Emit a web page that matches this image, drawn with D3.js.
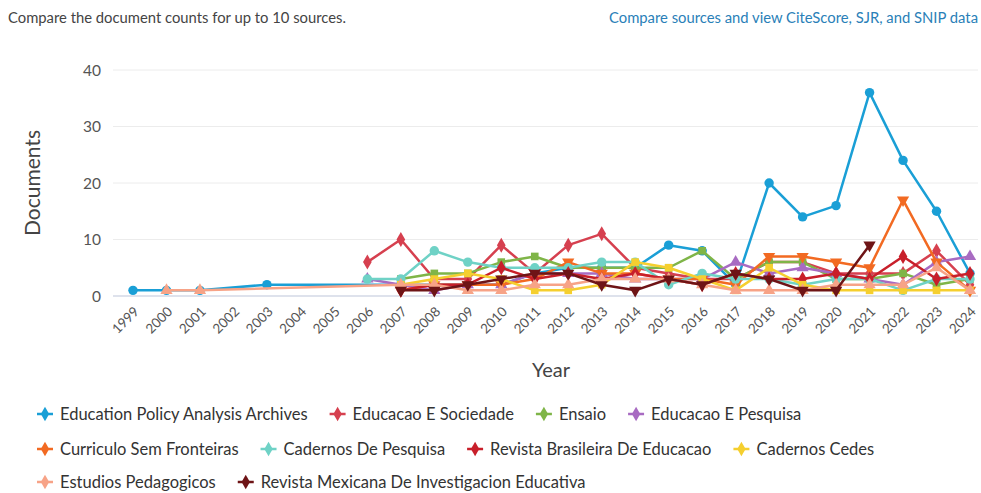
<!DOCTYPE html>
<html>
<head>
<meta charset="utf-8">
<script src="https://cdn.jsdelivr.net/npm/d3@7/dist/d3.min.js"></script>
<style>
body{margin:0;background:#fff;}
svg{display:block;}
</style>
</head>
<body>
<svg id="chart" width="981" height="493"></svg>
<script>
const years = d3.range(1999, 2025);
const yTicks = [0, 10, 20, 30, 40];

const seriesNames = [
  "Education Policy Analysis Archives",
  "Educacao E Sociedade",
  "Ensaio",
  "Educacao E Pesquisa",
  "Curriculo Sem Fronteiras",
  "Cadernos De Pesquisa",
  "Revista Brasileira De Educacao",
  "Cadernos Cedes",
  "Estudios Pedagogicos",
  "Revista Mexicana De Investigacion Educativa"
];
const seriesColors = ["#1a9fd6","#d6404f","#7fb548","#a86bc2","#f26a22","#6fd2c6","#c81f2a","#f5cf2f","#f7a387","#6e1416"];
const seriesSymbols = ["circle","diamond","square","triangle","triangleDown","circle","diamond","square","triangle","triangleDown"];

// [year, documents]
const epaa = [[1999,1],[2000,1],[2001,1],[2003,2],[2007,2],[2008,2],[2009,2],[2010,2],[2011,4],[2012,5],[2013,5],[2014,5],[2015,9],[2016,8],[2017,2],[2018,20],[2019,14],[2020,16],[2021,36],[2022,24],[2023,15],[2024,4]];
const educSoc = [[2006,6],[2007,10],[2008,3],[2009,3],[2010,9],[2011,4],[2012,9],[2013,11],[2014,5],[2015,4],[2016,3],[2017,3],[2018,6],[2019,6],[2020,4],[2021,4],[2022,4],[2023,8],[2024,2]];
const ensaio = [[2007,3],[2008,4],[2009,4],[2010,6],[2011,7],[2012,5],[2013,5],[2014,5],[2015,5],[2016,8],[2017,3],[2018,6],[2019,6],[2020,3],[2021,3],[2022,4],[2023,2],[2024,3]];
const educPesq = [[2006,3],[2007,2],[2008,1],[2009,2],[2010,2],[2011,4],[2012,4],[2013,4],[2014,3],[2015,3],[2016,3],[2017,6],[2018,4],[2019,5],[2020,4],[2021,3],[2022,2],[2023,6],[2024,7]];
const curriculo = [[2007,1],[2008,2],[2009,2],[2010,2],[2011,3],[2012,6],[2013,4],[2014,4],[2015,3],[2016,3],[2017,2],[2018,7],[2019,7],[2020,6],[2021,5],[2022,17],[2023,6],[2024,1]];
const cadPesq = [[2006,3],[2007,3],[2008,8],[2009,6],[2010,5],[2011,5],[2012,5],[2013,6],[2014,6],[2015,2],[2016,4],[2017,3],[2018,3],[2019,2],[2020,3],[2021,3],[2022,1],[2023,3],[2024,3]];
const revBras = [[2007,1],[2008,2],[2009,2],[2010,5],[2011,3],[2012,4],[2013,3],[2014,4],[2015,3],[2016,2],[2017,4],[2018,3],[2019,3],[2020,4],[2021,3],[2022,7],[2023,3],[2024,4]];
const cadCedes = [[2007,2],[2008,3],[2009,4],[2010,3],[2011,1],[2012,1],[2013,2],[2014,6],[2015,5],[2016,3],[2017,1],[2018,5],[2019,2],[2020,1],[2021,1],[2022,1],[2023,1],[2024,1]];
const estPed = [[2000,1],[2001,1],[2007,2],[2008,2],[2009,1],[2010,1],[2011,2],[2012,2],[2013,3],[2014,3],[2015,3],[2016,2],[2017,1],[2018,1],[2019,1],[2020,2],[2021,2],[2022,2],[2023,5],[2024,1]];
const revMex = [[2007,1],[2008,1],[2009,2],[2010,3],[2011,4],[2012,4],[2013,2],[2014,1],[2015,3],[2016,2],[2017,4],[2018,3],[2019,1],[2020,1],[2021,9]];

const seriesValues = [epaa, educSoc, ensaio, educPesq, curriculo, cadPesq, revBras, cadCedes, estPed, revMex];

const svg = d3.select("#chart");
const font = "Lato, 'Open Sans', sans-serif";

// header
svg.append("text").attr("x", 8).attr("y", 23).attr("font-family", font).attr("font-size", 14.8)
  .attr("fill", "#444").text("Compare the document counts for up to 10 sources.");
svg.append("text").attr("x", 978).attr("y", 23).attr("text-anchor", "end").attr("font-family", font)
  .attr("font-size", 14.8).attr("fill", "#2a7fb8").text("Compare sources and view CiteScore, SJR, and SNIP data");

const x = d3.scalePoint().domain(years).range([133, 970]);
const y = d3.scaleLinear().domain([0, 40]).range([296, 70]);

// grid
const grid = svg.append("g");
grid.selectAll("line").data(yTicks).join("line")
  .attr("x1", 113).attr("x2", 978)
  .attr("y1", d => y(d)).attr("y2", d => y(d))
  .attr("stroke", d => d === 0 ? "#d3d9e6" : "#ececec").attr("stroke-width", d => d === 0 ? 1.5 : 1);

// y axis
const yAxis = svg.append("g").attr("transform", "translate(101,0)")
  .call(d3.axisLeft(y).tickValues(yTicks).tickSize(0).tickPadding(0));
yAxis.select(".domain").remove();
yAxis.selectAll("text").attr("font-family", font).attr("font-size", 15.5).attr("fill", "#555").attr("dy", "0.35em");

svg.append("text").attr("transform", "translate(40,183) rotate(-90)").attr("text-anchor", "middle")
  .attr("font-family", font).attr("font-size", 21).attr("fill", "#444").text("Documents");

// x axis
const xAxis = svg.append("g").attr("transform", "translate(0,300)")
  .call(d3.axisBottom(x).tickSize(0).tickPadding(0));
xAxis.select(".domain").remove();
xAxis.selectAll("text")
  .attr("font-family", font).attr("font-size", 13.5).attr("fill", "#555")
  .attr("text-anchor", "end").attr("dy", "0.35em")
  .attr("transform", "translate(3,9) rotate(-45)");

svg.append("text").attr("x", 551).attr("y", 377).attr("text-anchor", "middle")
  .attr("font-family", font).attr("font-size", 20).attr("fill", "#444").text("Year");

function symbolPath(kind, s) {
  const m = {
    circle: d3.symbolCircle, diamond: d3.symbolDiamond, square: d3.symbolSquare,
    triangle: d3.symbolTriangle
  };
  if (kind === "triangleDown") return d3.symbol(d3.symbolTriangle, s)();
  return d3.symbol(m[kind], s)();
}
function symbolTransform(kind) { return kind === "triangleDown" ? " rotate(180)" : ""; }
const sizes = {circle: 70, diamond: 65, square: 58, triangle: 65, triangleDown: 65};

const line = d3.line().x(d => x(d[0])).y(d => y(d[1]));
const plot = svg.append("g");
seriesValues.forEach((vals, i) => {
  const g = plot.append("g");
  g.append("path").datum(vals).attr("d", line).attr("fill", "none")
    .attr("stroke", seriesColors[i]).attr("stroke-width", 2.5).attr("stroke-linejoin", "round");
  g.selectAll("path.m").data(vals).join("path").attr("class", "m")
    .attr("d", symbolPath(seriesSymbols[i], sizes[seriesSymbols[i]]))
    .attr("transform", d => `translate(${x(d[0])},${y(d[1])})` + symbolTransform(seriesSymbols[i]))
    .attr("fill", seriesColors[i]);
});

// legend
const rows = [[0,1,2,3],[4,5,6,7],[8,9]];
const rowY = [414, 449, 482];
const legend = svg.append("g");
rows.forEach((row, r) => {
  let cx = 37;
  row.forEach(i => {
    const g = legend.append("g").attr("transform", `translate(${cx},${rowY[r]})`);
    g.append("line").attr("x1", 0).attr("x2", 16).attr("y1", 0).attr("y2", 0)
      .attr("stroke", seriesColors[i]).attr("stroke-width", 2.5);
    g.append("path").attr("d", d3.symbol(d3.symbolDiamond, 60)()).attr("transform", "translate(8,0)")
      .attr("fill", seriesColors[i]);
    const t = g.append("text").attr("x", 23).attr("dy", "0.35em").attr("font-family", font)
      .attr("font-size", 16.5).attr("fill", "#333").text(seriesNames[i]);
    cx += 23 + t.node().getComputedTextLength() + 22;
  });
});
</script>
</body>
</html>
